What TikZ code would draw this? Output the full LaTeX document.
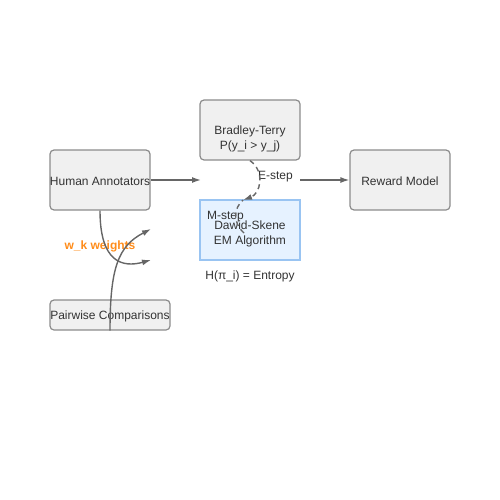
\documentclass[tikz,border=0pt]{standalone}
\usepackage{fontspec}
\setmainfont{Liberation Sans}
\usetikzlibrary{arrows.meta}
\definecolor{boxfill}{HTML}{F0F0F0}
\definecolor{boxline}{HTML}{8C8C8C}
\definecolor{emfill}{HTML}{E6F2FF}
\definecolor{emline}{HTML}{99C4F2}
\definecolor{textgray}{HTML}{333333}
\definecolor{arrowgray}{HTML}{666666}
\definecolor{weightorange}{HTML}{FF8C1A}

\begin{document}
\begin{tikzpicture}[x=1pt, y=-1pt,
  box/.style={draw=boxline, fill=boxfill, rounded corners=4pt, line width=1.2pt, inner sep=0pt},
  lbl/.style={text=textgray, font=\fontsize{12}{15}\selectfont, align=center, inner sep=0pt},
  flow/.style={draw=arrowgray, line width=1.4pt, -{Latex[length=9pt, width=6pt]}},
  emflow/.style={draw=arrowgray, line width=1.4pt, dash pattern=on 5pt off 4pt}]

\newcommand{\boxwidth}{100pt}
\newcommand{\boxheight}{60pt}

\useasboundingbox (0,0) rectangle (500,500);

% boxes
\node[box, minimum width=\boxwidth, minimum height=\boxheight] (human) at (100,180) {};
\node[box, minimum width=\boxwidth, minimum height=\boxheight] (bt) at (250,130) {};
\node[box, minimum width=\boxwidth, minimum height=\boxheight] (reward) at (400,180) {};
\node[box, draw=emline, fill=emfill, rounded corners=0pt, minimum width=\boxwidth, minimum height=\boxheight] (ds) at (250,230) {};
\node[box, minimum width=120pt, minimum height=30pt] (pairs) at (110,315) {};

% texts
\node[lbl] (humantext) at (100,181.5) {Human Annotators};
\node[lbl] (bttext) at (250,139) {Bradley-Terry\\P(y\_i > y\_j)};
\node[lbl] (rewardtext) at (400,181.5) {Reward Model};
\node[lbl] (dstext) at (250,234) {Dawid-Skene\\EM Algorithm};
\node[lbl] (pairstext) at (110,316.5) {Pairwise Comparisons};
\node[lbl] (estep) at (275.5,176.5) {E-step};
\node[lbl] (mstep) at (225.5,216.5) {M-step};
\node[lbl] (entropy) at (250,276.5) {H(π\_i) = Entropy};
\node[lbl, text=weightorange, font=\fontsize{12}{15}\selectfont\bfseries] (weights) at (100,246.5) {w\_k weights};

% connectors
\coordinate (humanto) at (201,180);
\coordinate (rewardfrom) at (300,180);
\coordinate (emtip) at (243,200);
\coordinate (mstepfrom) at (244,233);
\coordinate (weighttip) at (151,260);
\coordinate (pairstip) at (151,229);

\draw[flow] (human.east) -- (humanto);
\draw[flow] (rewardfrom) -- (reward.west);
\draw[emflow, -{Latex[length=9pt, width=6pt]}] (bt.south) .. controls (266,172) and (260,194) .. (emtip);
\draw[emflow] (mstepfrom) .. controls (232,222) and (234,208) .. (emtip);
\draw[flow] (human.south) .. controls (100,262) and (122,268) .. (weighttip);
\draw[flow] (pairs.south) .. controls (110,268) and (118,246) .. (pairstip);

\end{tikzpicture}
\end{document}
